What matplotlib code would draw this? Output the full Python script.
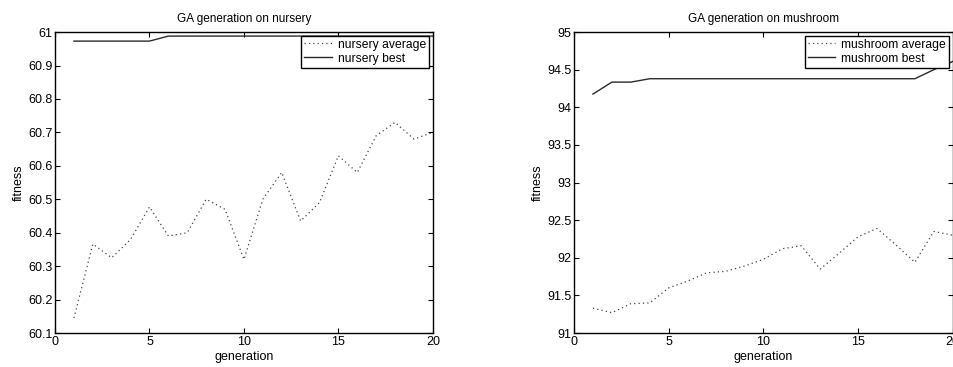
import matplotlib
matplotlib.use('Agg')
import matplotlib.pyplot as plt

generations = list(range(1, 21))

nursery_avg = [60.145, 60.366, 60.325, 60.38, 60.477, 60.39, 60.40, 60.50, 60.47, 60.32,
               60.50, 60.58, 60.435, 60.49, 60.63, 60.58, 60.69, 60.73, 60.68, 60.70]
nursery_best = [60.973, 60.973, 60.973, 60.973, 60.973, 60.988, 60.988, 60.988, 60.988, 60.988,
                60.988, 60.988, 60.988, 60.988, 60.988, 60.988, 60.988, 60.988, 60.988, 60.988]

mushroom_avg = [91.33, 91.27, 91.39, 91.40, 91.60, 91.69, 91.80, 91.82, 91.89, 91.98,
                92.12, 92.16, 91.85, 92.06, 92.28, 92.39, 92.17, 91.94, 92.35, 92.30]
mushroom_best = [94.176, 94.335, 94.335, 94.38, 94.38, 94.38, 94.38, 94.38, 94.38, 94.38,
                 94.38, 94.38, 94.38, 94.38, 94.38, 94.38, 94.38, 94.38, 94.50, 94.61]

nursery_yticks = [60.1, 60.2, 60.3, 60.4, 60.5, 60.6, 60.7, 60.8, 60.9, 61]
mushroom_yticks = [91, 91.5, 92, 92.5, 93, 93.5, 94, 94.5, 95]
xticks = [0, 5, 10, 15, 20]

plt.rcParams['font.family'] = ['Liberation Sans', 'DejaVu Sans']
plt.rcParams['font.size'] = 8

fig = plt.figure(figsize=(9.54, 3.67), dpi=100)
ax1 = fig.add_axes([0.0577, 0.0926, 0.396, 0.820])
ax2 = fig.add_axes([0.6017, 0.0926, 0.397, 0.820])

panels = [
    (ax1, 'nursery', nursery_avg, nursery_best, (60.1, 61), nursery_yticks),
    (ax2, 'mushroom', mushroom_avg, mushroom_best, (91, 95), mushroom_yticks),
]

for ax, name, avg, best, ylim, yticks in panels:
    ax.plot(generations, avg, linestyle=(0, (1, 2.5)), color='#444444', lw=0.9, label=name + ' average')
    ax.plot(generations, best, linestyle='-', color='#2a2a2a', lw=1.0, label=name + ' best')
    ax.set_xlim(0, 20)
    ax.set_ylim(*ylim)
    ax.set_xticks(xticks)
    ax.set_yticks(yticks)
    ax.set_yticklabels([('%g' % t) for t in yticks])
    ax.tick_params(direction='in', top=True, right=True, length=3.5, width=0.8, labelsize=9, pad=2)
    for s in ax.spines.values():
        s.set_linewidth(1.0)
    ax.set_title('GA generation on ' + name, fontsize=8.5, pad=7)
    ax.set_xlabel('generation', fontsize=9, labelpad=2.5)
    ax.set_ylabel('fitness', fontsize=9, labelpad=2)
    leg = ax.legend(loc='upper right', fontsize=8.7, fancybox=False, framealpha=1,
                    edgecolor='black', borderaxespad=0.3, handlelength=2.3,
                    handletextpad=0.5, borderpad=0.25, labelspacing=0.15)
    leg.get_frame().set_linewidth(1.0)

plt.savefig('out.png', dpi=100)
plt.close()
